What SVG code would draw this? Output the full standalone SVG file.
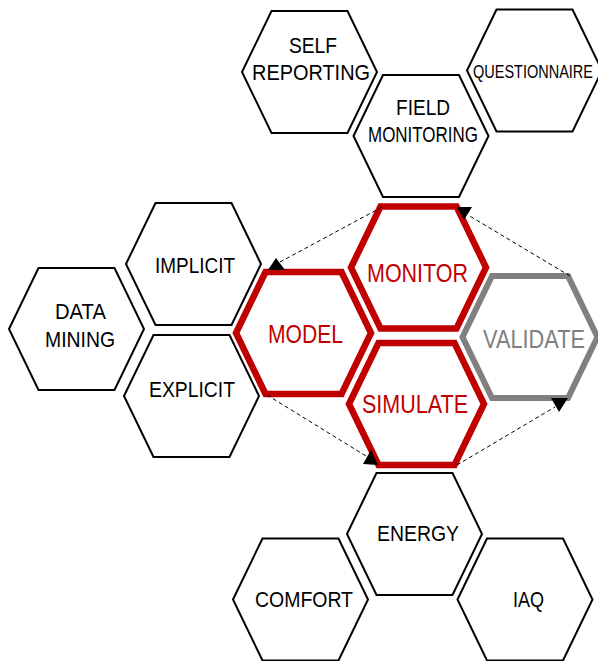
<svg xmlns="http://www.w3.org/2000/svg" xmlns:xlink="http://www.w3.org/1999/xlink" width="598" height="661" viewBox="0 0 598 661">
  <defs>
    <polygon id="hex" points="-67.5,0 -38,-61 38,-61 67.5,0 38,61 -38,61"/>
  </defs>
  <style>
    .h { fill: #ffffff; stroke: #000000; stroke-width: 2; stroke-linejoin: miter; }
    .hr { fill: #ffffff; stroke: #c00000; stroke-width: 6.5; stroke-linejoin: miter; }
    .hg { fill: #ffffff; stroke: #808080; stroke-width: 6; stroke-linejoin: miter; }
    text { font-family: "Liberation Sans", Arial, sans-serif; text-anchor: middle; }
    .t { font-size: 22px; fill: #000000; }
    .ts { font-size: 18px; fill: #000000; }
    .tr { font-size: 26px; fill: #c00000; }
    .tg { font-size: 26px; fill: #808080; }
    .d { fill: none; stroke: #000000; stroke-width: 1; stroke-dasharray: 4 3; }
    .a { fill: #000000; stroke: none; }
  </style>
  <rect x="0" y="0" width="598" height="661" fill="#ffffff"/>

  <g id="self-reporting">
    <use xlink:href="#hex" href="#hex" x="309.5" y="72" class="h"/>
    <text class="t" x="313" y="53" textLength="48" lengthAdjust="spacingAndGlyphs">SELF</text>
    <text class="t" x="311" y="80" textLength="118" lengthAdjust="spacingAndGlyphs">REPORTING</text>
  </g>
  <g id="field-monitoring">
    <use xlink:href="#hex" href="#hex" x="421" y="136" class="h"/>
    <text class="t" x="423" y="115" textLength="54" lengthAdjust="spacingAndGlyphs">FIELD</text>
    <text class="t" x="423" y="142" textLength="110" lengthAdjust="spacingAndGlyphs">MONITORING</text>
  </g>
  <g id="questionnaire">
    <use xlink:href="#hex" href="#hex" x="534.5" y="70.5" class="h"/>
    <text class="ts" x="533" y="78" textLength="120" lengthAdjust="spacingAndGlyphs">QUESTIONNAIRE</text>
  </g>
  <g id="implicit">
    <use xlink:href="#hex" href="#hex" x="193.5" y="264" class="h"/>
    <text class="t" x="195" y="273" textLength="80" lengthAdjust="spacingAndGlyphs">IMPLICIT</text>
  </g>
  <g id="data-mining">
    <use xlink:href="#hex" href="#hex" x="76.5" y="329" class="h"/>
    <text class="t" x="80.5" y="319" textLength="51" lengthAdjust="spacingAndGlyphs">DATA</text>
    <text class="t" x="80" y="347" textLength="70" lengthAdjust="spacingAndGlyphs">MINING</text>
  </g>
  <g id="explicit">
    <use xlink:href="#hex" href="#hex" x="191.5" y="396" class="h"/>
    <text class="t" x="192" y="397" textLength="86" lengthAdjust="spacingAndGlyphs">EXPLICIT</text>
  </g>
  <g id="energy">
    <use xlink:href="#hex" href="#hex" x="414.5" y="534" class="h"/>
    <text class="t" x="418" y="541" textLength="82" lengthAdjust="spacingAndGlyphs">ENERGY</text>
  </g>
  <g id="comfort">
    <use xlink:href="#hex" href="#hex" x="300.5" y="599.5" class="h"/>
    <text class="t" x="304" y="607" textLength="98" lengthAdjust="spacingAndGlyphs">COMFORT</text>
  </g>
  <g id="iaq">
    <use xlink:href="#hex" href="#hex" x="525" y="599.5" class="h"/>
    <text class="t" x="528.5" y="607" textLength="31" lengthAdjust="spacingAndGlyphs">IAQ</text>
  </g>

  <g id="monitor">
    <use xlink:href="#hex" href="#hex" x="418.5" y="267.5" class="hr"/>
    <text class="tr" x="417.5" y="282" textLength="101" lengthAdjust="spacingAndGlyphs">MONITOR</text>
  </g>
  <g id="model">
    <use xlink:href="#hex" href="#hex" x="303.5" y="333" class="hr"/>
    <text class="tr" x="305.5" y="343" textLength="75" lengthAdjust="spacingAndGlyphs">MODEL</text>
  </g>
  <g id="simulate">
    <use xlink:href="#hex" href="#hex" x="416.5" y="404" class="hr"/>
    <text class="tr" x="415" y="413" textLength="106" lengthAdjust="spacingAndGlyphs">SIMULATE</text>
  </g>
  <g id="validate">
    <use xlink:href="#hex" href="#hex" x="530" y="337" class="hg"/>
    <text class="tg" x="534" y="348" textLength="102" lengthAdjust="spacingAndGlyphs">VALIDATE</text>
  </g>

  <g id="connectors">
    <path class="d" d="M382,207 L280,262"/>
    <polygon class="a" points="276,258 268,270 285,270"/>
    <path class="d" d="M570,276 L468,215"/>
    <polygon class="a" points="457,207 472,207 464,220"/>
    <path class="d" d="M267,395 L366,456"/>
    <polygon class="a" points="363,464 371,450 378,465"/>
    <path class="d" d="M457,465 L555,407"/>
    <polygon class="a" points="551,398 568,398 559,412"/>
  </g>
</svg>
